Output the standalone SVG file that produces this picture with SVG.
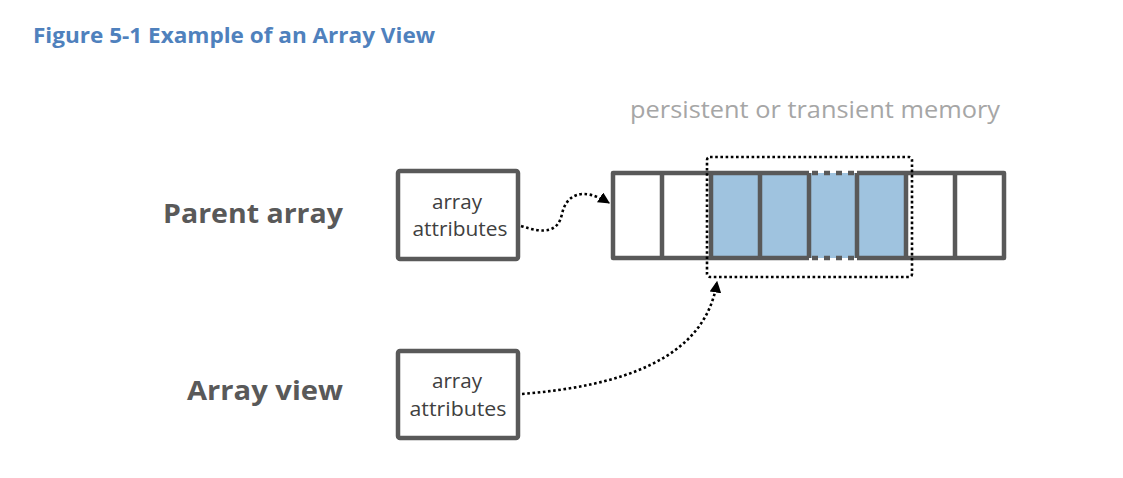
<svg xmlns="http://www.w3.org/2000/svg" width="1123" height="478" viewBox="0 0 1123 478">
<defs>
<marker id="arr" viewBox="0 0 10 10" refX="9" refY="5" markerWidth="4.5" markerHeight="4.5" orient="auto" markerUnits="strokeWidth">
<path d="M0,0 L10,5 L0,10 z" fill="#000"/>
</marker>
<style>
.box{fill:#fff;stroke:#595959;stroke-width:4.5}
.cellline{stroke:#595959;stroke-width:4.5;fill:none}
.btxt{font-family:"Open Sans","Liberation Sans",sans-serif;font-size:20px;fill:#404040;text-anchor:middle}
.lbl{font-family:"Open Sans","Liberation Sans",sans-serif;font-size:27px;font-weight:bold;fill:#595959;text-anchor:end}
.dot{fill:none;stroke:#000;stroke-width:2.6;stroke-dasharray:2.6 2.6}
</style>
</defs>
<rect width="1123" height="478" fill="#fff"/>
<text x="33" y="43" font-family="'Open Sans','Liberation Sans',sans-serif" font-size="21" font-weight="bold" fill="#4F81BD" textLength="402" lengthAdjust="spacingAndGlyphs">Figure 5-1 Example of an Array View</text>
<text x="630" y="118" font-family="'Open Sans','Liberation Sans',sans-serif" font-size="24" fill="#A6A6A6" textLength="370" lengthAdjust="spacingAndGlyphs">persistent or transient memory</text>
<g id="label-parent"><text class="lbl" x="343" y="223" textLength="180" lengthAdjust="spacingAndGlyphs">Parent array</text></g>
<g id="label-view"><text class="lbl" x="343" y="400" textLength="156" lengthAdjust="spacingAndGlyphs">Array view</text></g>
<g id="parent-attrs">
<rect class="box" x="398" y="171" width="120" height="88" rx="2"/>
<text class="btxt" x="457" y="209" textLength="50" lengthAdjust="spacingAndGlyphs">array</text>
<text class="btxt" x="460" y="236" textLength="95" lengthAdjust="spacingAndGlyphs">attributes</text>
</g>
<g id="view-attrs">
<rect class="box" x="398" y="351" width="120" height="87" rx="2"/>
<text class="btxt" x="457" y="388" textLength="50" lengthAdjust="spacingAndGlyphs">array</text>
<text class="btxt" x="458" y="416" textLength="97" lengthAdjust="spacingAndGlyphs">attributes</text>
</g>
<g id="memory">
<rect x="613" y="173" width="391" height="85" fill="#fff"/>
<rect x="711" y="173" width="195" height="85" fill="#9FC3DF"/>
<path class="cellline" d="M809,173 H613 V258 H809 M857,173 H1004 V258 H857" stroke-linejoin="round"/>
<path class="cellline" d="M809,173 H857 M809,258 H857" stroke-dasharray="6 6" stroke-dashoffset="-3"/>
<path class="cellline" d="M662,173 V258 M711,173 V258 M760,173 V258 M809,173 V258 M857,173 V258 M906,173 V258 M955,173 V258"/>
</g>
<g id="view-window">
<rect class="dot" x="707" y="157" width="205" height="120" rx="3"/>
</g>
<g id="connectors">
<path class="dot" d="M521,226 C545,234 558,232 562,214 C566,195 582,186 609,203" marker-end="url(#arr)"/>
<path class="dot" d="M522,394 C620,386 705,360 717,282" marker-end="url(#arr)"/>
</g>
</svg>
